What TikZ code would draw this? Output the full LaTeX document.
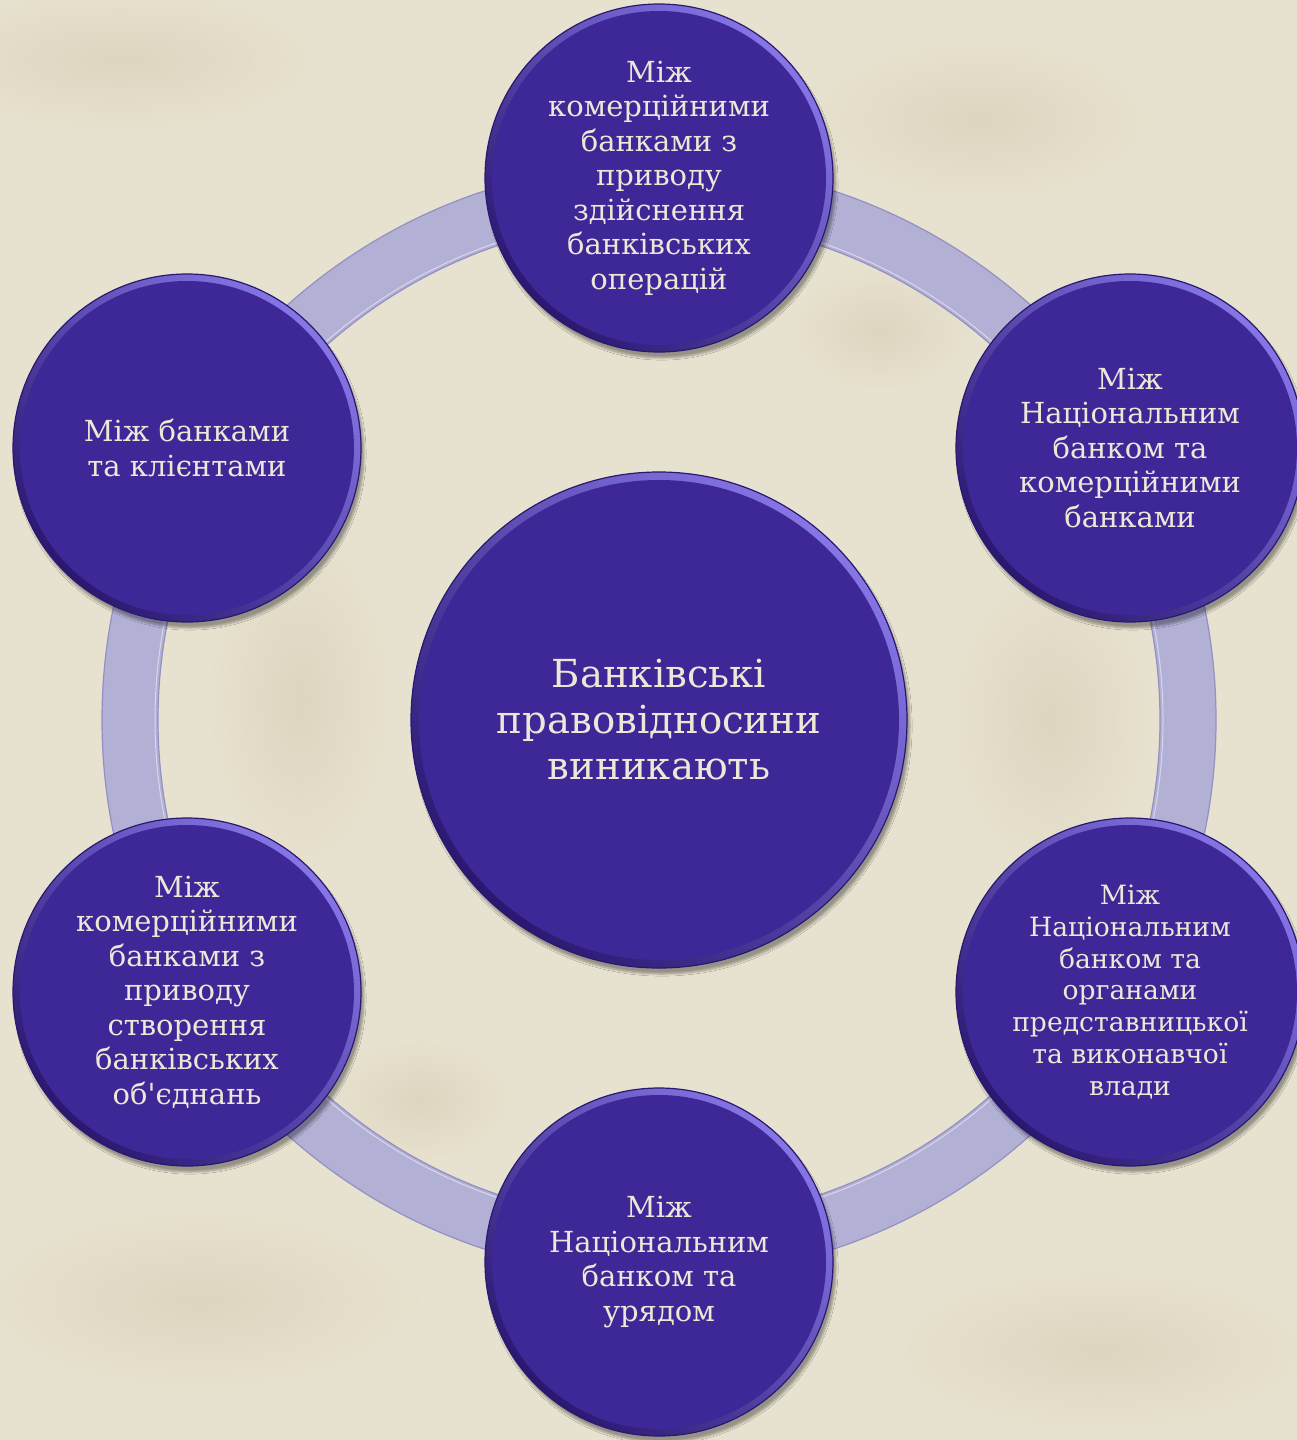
\documentclass[tikz,border=0pt]{standalone}
\usepackage{fontspec}
\setmainfont{DejaVu Serif}[Ligatures=TeXOff]
\usetikzlibrary{shadows.blur,fadings}
\tikzfading[name=softblob, inner color=transparent!20, outer color=transparent!100]
\definecolor{bgcol}{HTML}{E7E1CF}
\definecolor{bgdark}{HTML}{D3C9AF}
\definecolor{ringcol}{HTML}{B2B0D5}
\definecolor{ringedge}{HTML}{9490C2}
\definecolor{discfill}{HTML}{3E2898}
\definecolor{rimlight}{HTML}{8676E6}
\definecolor{rimdark}{HTML}{2A1870}
\definecolor{txtcol}{HTML}{EEE7D7}
\tikzset{
  disc/.style={circle, inner sep=0pt, draw=rimdark, line width=1.2pt,
    left color=rimlight, right color=rimdark, shading angle=-45,
    blur shadow={shadow xshift=3pt, shadow yshift=-6pt, shadow blur steps=6, shadow opacity=35}},
  outertext/.style={text=txtcol, align=center, font=\fontsize{29}{34.5}\selectfont},
  smalltext/.style={text=txtcol, align=center, font=\fontsize{26.6}{31.7}\selectfont},
  centertext/.style={text=txtcol, align=center, font=\fontsize{38.6}{46}\selectfont},
  blob/.style={bgdark, opacity=0.6, path fading=softblob},
}
\begin{document}
\begin{tikzpicture}[x=1pt,y=-1pt]
\useasboundingbox (0,0) rectangle (1297,1440);
\fill[bgcol] (0,0) rectangle (1297,1440);
% parchment mottling
\fill[blob] (120,60) ellipse [x radius=200pt, y radius=70pt];
\fill[blob] (980,120) ellipse [x radius=170pt, y radius=80pt];
\fill[blob] (300,700) ellipse [x radius=90pt, y radius=170pt];
\fill[blob] (1050,720) ellipse [x radius=100pt, y radius=150pt];
\fill[blob] (200,1300) ellipse [x radius=220pt, y radius=90pt];
\fill[blob] (1100,1350) ellipse [x radius=210pt, y radius=80pt];
\fill[blob] (880,330) ellipse [x radius=90pt, y radius=60pt];
\fill[blob] (420,1100) ellipse [x radius=90pt, y radius=60pt];
% ring
\coordinate (o) at (659,720);
\draw[ringcol, line width=56pt] (o) circle [radius=529pt];
\draw[ringedge, line width=1.2pt] (o) circle [radius=557pt];
\draw[ringedge, line width=1.2pt] (o) circle [radius=501pt];
\draw[white, opacity=0.5, line width=1pt] (o) circle [radius=504pt];
% discs
\newcommand{\mydisc}[4]{%
  \node[disc, minimum size=#3pt] (#1) at (#2) {};
  \fill[discfill] (#1.center) circle [radius=#4pt];
}
\mydisc{cen}{659,720}{496}{240}
\mydisc{n1}{659,178}{348}{167}
\mydisc{n2}{1130,448}{348}{167}
\mydisc{n3}{1130,992}{348}{167}
\mydisc{n4}{659,1262}{348}{167}
\mydisc{n5}{187,992}{348}{167}
\mydisc{n6}{187,448}{348}{167}
\node[centertext] (tcen) at (cen.center) {Банківські\\правовідносини\\виникають};
\node[outertext] (t1) at (n1.center) {Між\\комерційними\\банками з\\приводу\\здійснення\\банківських\\операцій};
\node[outertext] (t2) at (n2.center) {Між\\Національним\\банком та\\комерційними\\банками};
\node[smalltext] (t3) at (n3.center) {Між\\Національним\\банком та\\органами\\представницької\\та виконавчої\\влади};
\node[outertext] (t4) at (n4.center) {Між\\Національним\\банком та\\урядом};
\node[outertext] (t5) at (n5.center) {Між\\комерційними\\банками з\\приводу\\створення\\банківських\\об'єднань};
\node[outertext] (t6) at (n6.center) {Між банками\\та клієнтами};
\end{tikzpicture}
\end{document}
